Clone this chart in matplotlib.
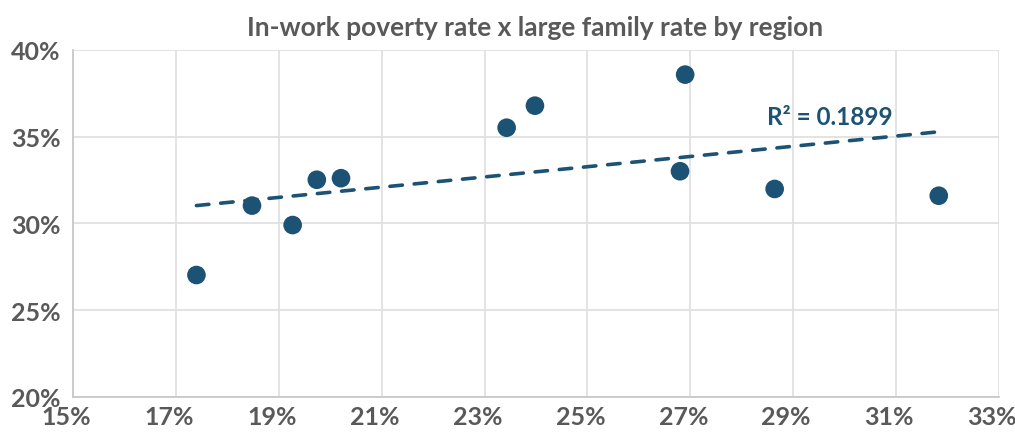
import numpy as np
import matplotlib
matplotlib.use("Agg")
import matplotlib.pyplot as plt
import matplotlib.transforms as mtransforms
from matplotlib.ticker import FuncFormatter

# large family rate (x) vs in-work poverty rate (y), one point per region, in %
large_family = [17.40, 18.48, 19.27, 19.74, 20.21, 23.43, 23.98, 26.80, 26.90, 28.64, 31.83]
in_work_poverty = [27.03, 31.03, 29.91, 32.52, 32.61, 35.52, 36.79, 33.01, 38.58, 31.99, 31.60]

x_ticks = [15, 17, 19, 21, 23, 25, 27, 29, 31, 33]
y_ticks = [20, 25, 30, 35, 40]

TITLE = "In-work poverty rate x large family rate by region"
R2_LABEL = "R² = 0.1899"

# colours
DOT_COLOUR = "#1c5274"
TEXT_COLOUR = "#595959"
GRID_COLOUR = "#e0e0e0"
AXIS_COLOUR = "#c8c8c8"

plt.rcParams["font.family"] = ["Lato", "DejaVu Sans"]
plt.rcParams["lines.scale_dashes"] = False

fig = plt.figure(figsize=(10.15, 4.35), dpi=100)
ax = fig.add_axes([0.0719, 0.0851, 0.9123, 0.7977])

x = np.array(large_family)
y = np.array(in_work_poverty)

# linear trendline over the data range
slope, intercept = np.polyfit(x, y, 1)
xs = np.array([x.min(), x.max()])
ax.plot(xs, slope * xs + intercept, color=DOT_COLOUR, lw=2.6,
        linestyle=(0, (9, 8.5)), dash_capstyle="round", zorder=2)

ax.scatter(x, y, s=180, color=DOT_COLOUR, edgecolors="none", zorder=3)

ax.text(28.49, 36.15, R2_LABEL, color=DOT_COLOUR, fontsize=17.5,
        fontweight="bold", ha="left", va="center")

ax.set_xlim(15, 33)
ax.set_ylim(20, 40)
ax.set_xticks(x_ticks)
ax.set_yticks(y_ticks)
pct = FuncFormatter(lambda v, p: f"{v:.0f}%")
ax.xaxis.set_major_formatter(pct)
ax.yaxis.set_major_formatter(pct)

ax.grid(True, color=GRID_COLOUR, lw=1.3)
ax.set_axisbelow(True)
for side in ["top", "right"]:
    ax.spines[side].set_visible(False)
for side in ["left", "bottom"]:
    ax.spines[side].set_color(AXIS_COLOUR)
    ax.spines[side].set_linewidth(1.3)

ax.tick_params(length=0, labelsize=18, labelcolor=TEXT_COLOUR)
ax.tick_params(axis="x", pad=6)
ax.tick_params(axis="y", pad=9)
# x labels sit a little left of their gridlines in the original
shift = mtransforms.ScaledTranslation(-7 / 100, 0, fig.dpi_scale_trans)
for lab in ax.get_xticklabels():
    lab.set_fontweight("bold")
    lab.set_transform(lab.get_transform() + shift)
for lab in ax.get_yticklabels():
    lab.set_fontweight("bold")

fig.text(0.527, 0.936, TITLE, ha="center", va="center", fontsize=19,
         fontweight="bold", color=TEXT_COLOUR)

fig.savefig("out.png", dpi=100)
